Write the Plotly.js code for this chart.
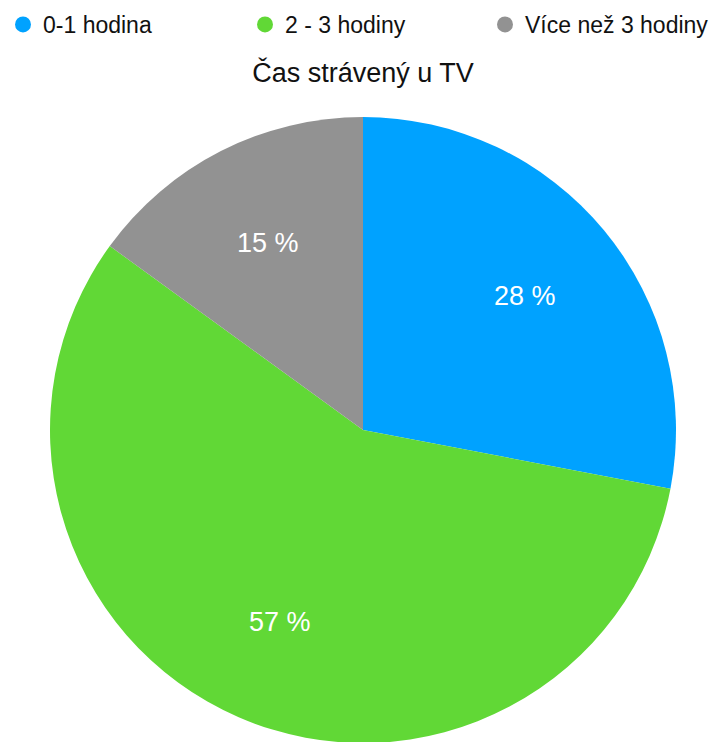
<!DOCTYPE html>
<html>
<head>
<meta charset="utf-8">
<script src="https://cdn.plot.ly/plotly-3.0.1.min.js"></script>
<style>
html,body{margin:0;padding:0;overflow:hidden;background:#fff;}
#chart{width:718px;height:760px;}
</style>
</head>
<body>
<div id="chart"></div>
<script>
const categories = ["0-1 hodina", "2 - 3 hodiny", "Více než 3 hodiny"];
const values = [28, 57, 15];
const colors = ["#00A2FF", "#61D836", "#929292"];
const chartTitle = "Čas strávený u TV";

const W = 718, H = 760;
const font = "Liberation Sans, Arial, Helvetica, sans-serif";

// pie geometry (pixels)
const cx = 363, cy = 430, R = 313;

const pie = {
  type: "pie",
  values: values,
  labels: categories,
  sort: false,
  direction: "clockwise",
  rotation: 0,
  marker: {colors: colors, line: {width: 0}},
  textinfo: "none",
  showlegend: false,
  hoverinfo: "none",
  domain: {x: [(cx - R)/W, (cx + R)/W], y: [(H - cy - R)/H, (H - cy + R)/H]}
};

// slice value labels, placed at the middle angle of each slice
const total = values.reduce((a, b) => a + b, 0);
let cum = 0;
const annotations = values.map(v => {
  const mid = (cum + v / 2) / total * 2 * Math.PI;
  cum += v;
  const r = 0.67 * R;
  return {
    text: v + " %",
    x: (cx + r * Math.sin(mid)) / W,
    y: (H - cy + r * Math.cos(mid)) / H,
    xref: "paper", yref: "paper",
    xanchor: "center", yanchor: "middle",
    showarrow: false,
    font: {color: "#ffffff", size: 27, family: font}
  };
});

const legendIds = ["legend", "legend2", "legend3"];
const legendSymbolX = [22, 264, 504];

const legendTraces = categories.map((c, i) => ({
  type: "scatter",
  mode: "markers",
  x: [null], y: [null],
  name: c,
  legend: legendIds[i],
  marker: {color: colors[i], size: 21, symbol: "circle"},
  showlegend: true,
  hoverinfo: "none"
}));

const layout = {
  width: W,
  height: H,
  margin: {l: 0, r: 0, t: 0, b: 0, autoexpand: false},
  paper_bgcolor: "#ffffff",
  plot_bgcolor: "#ffffff",
  font: {family: font, color: "#000000"},
  title: {
    text: chartTitle,
    font: {size: 27, family: font, color: "#111111"},
    x: 363/W, xanchor: "center", xref: "paper",
    y: 1 - 73/H, yanchor: "middle", yref: "container"
  },
  xaxis: {visible: false, domain: [0, 0.01]},
  yaxis: {visible: false, domain: [0, 0.01]},
  annotations: annotations,
  showlegend: true
};

legendIds.forEach((id, i) => {
  layout[id] = {
    orientation: "h",
    x: (legendSymbolX[i] - 19) / W, xanchor: "left",
    y: 1 - 3/H, yanchor: "top",
    font: {size: 23, family: font, color: "#111111"},
    itemsizing: "trace",
    bgcolor: "rgba(0,0,0,0)"
  };
});

Plotly.newPlot("chart", [pie, ...legendTraces], layout, {staticPlot: true, displayModeBar: false});
</script>
</body>
</html>
